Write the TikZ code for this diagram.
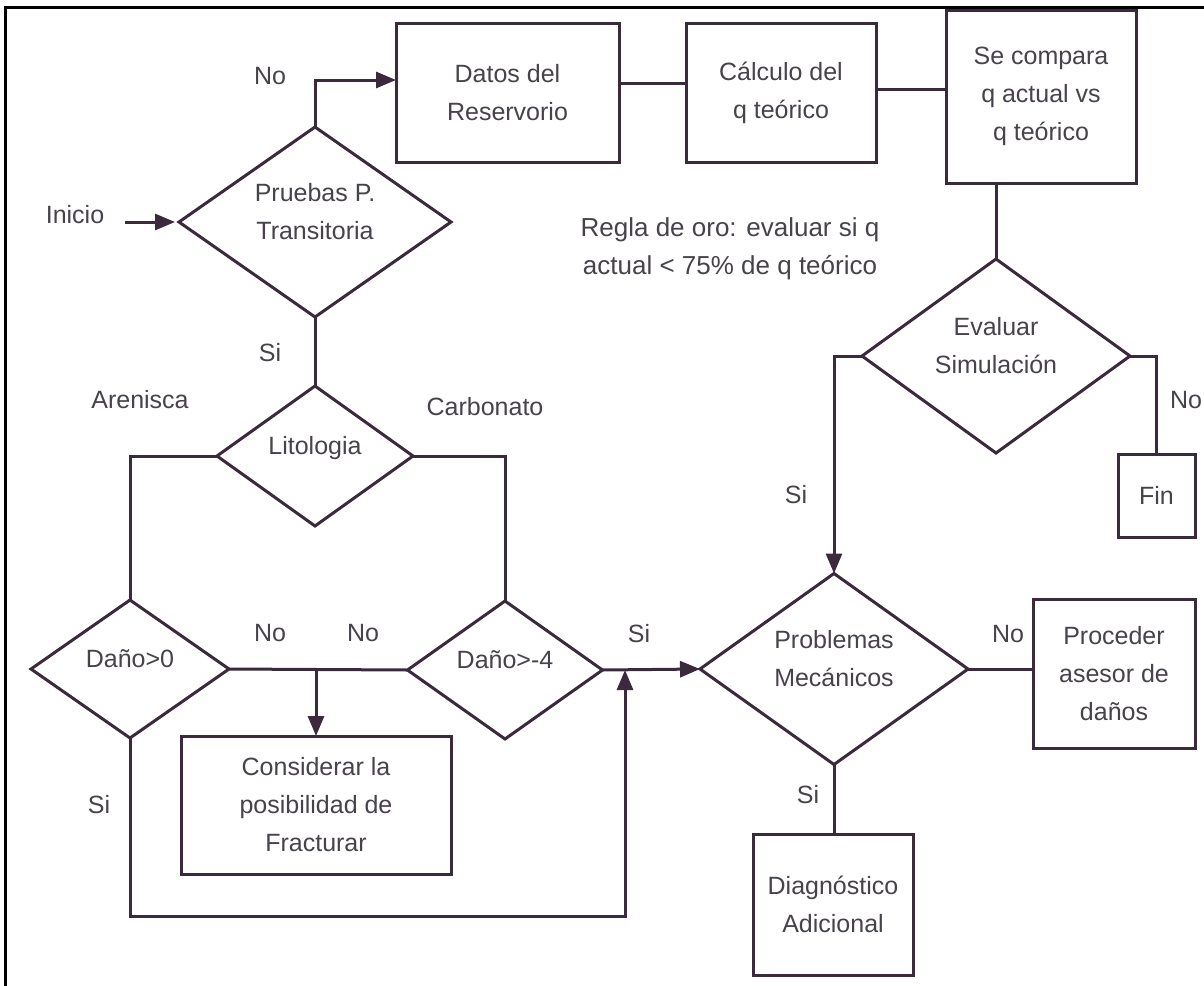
\documentclass[tikz,border=0pt]{standalone}
\usepackage{fontspec}
\setmainfont{Liberation Sans}
\usetikzlibrary{shapes.geometric,arrows.meta}
\definecolor{ln}{RGB}{58,42,60}
\definecolor{tx}{RGB}{72,66,74}
\newcommand\dtxt[1]{\smash{\makebox[0pt]{\raisebox{3pt}{\begin{tabular}{@{}c@{}}#1\end{tabular}}}}}
\begin{document}
\begin{tikzpicture}[x=1pt,y=-1pt,
  every node/.style={font=\fontsize{25}{38}\selectfont, text=tx},
  box/.style={draw=ln, line width=3pt, rectangle, inner sep=0pt, outer sep=0pt, align=center},
  dia/.style={draw=ln, line width=3pt, diamond, inner sep=0pt, outer sep=0pt},
  conn/.style={draw=ln, line width=3pt},
  arr/.style={conn, -{Triangle[length=20pt,width=16pt]}},
  lbl/.style={inner sep=0pt}]
\useasboundingbox (0,0) rectangle (1204,985);
\fill[white] (0,0) rectangle (1204,985);
% frame
\draw[line width=3pt, black] (5,995) -- (5,7) -- (1215,7);

% nodes
\node[dia, minimum width=272pt, minimum height=190pt] (pruebas) at (315,222) {\dtxt{Pruebas P.\\Transitoria}};
\node[box, minimum width=223pt, minimum height=139pt] (datos) at (507.5,92.5) {Datos del\\Reservorio};
\node[box, minimum width=190pt, minimum height=139pt] (calculo) at (781,92.5) {Cálculo del\\q teórico};
\node[box, minimum width=190pt, minimum height=173pt] (secompara) at (1041,96.5) {Se compara\\q actual vs\\q teórico};
\node[dia, minimum width=268pt, minimum height=194pt] (evaluar) at (996,356) {\dtxt{Evaluar\\Simulación}};
\node[box, minimum width=77pt, minimum height=83pt] (fin) at (1156.5,495.5) {Fin};
\node[dia, minimum width=268pt, minimum height=191pt] (problemas) at (834,669) {\dtxt{Problemas\\Mecánicos}};
\node[box, minimum width=162pt, minimum height=149pt] (proceder) at (1114,673.5) {Proceder\\asesor de\\daños};
\node[box, minimum width=160pt, minimum height=141pt] (diagnostico) at (833,904.5) {Diagnóstico\\Adicional};
\node[dia, minimum width=196pt, minimum height=140pt] (litologia) at (315,456) {\dtxt{Litologia}};
\node[dia, minimum width=198pt, minimum height=138pt] (dano0) at (130,669) {\dtxt{Daño>0}};
\node[dia, minimum width=195pt, minimum height=138pt] (dano4) at (505,670) {\dtxt{Daño>-4}};
\node[box, minimum width=270pt, minimum height=138pt] (considerar) at (316,805) {Considerar la\\posibilidad de\\Fracturar};

% free texts and labels
\node[lbl] (inicio) at (75,215) {Inicio};
\node[lbl, align=center, font=\fontsize{26}{38}\selectfont] (regla) at (730,249) {Regla de oro: evaluar si q\\actual < 75\% de q teórico};
\node[lbl] (lno1) at (270,76) {No};
\node[lbl] (lsi1) at (270,353) {Si};
\node[lbl] (lare) at (140,400) {Arenisca};
\node[lbl] (lcar) at (485,407) {Carbonato};
\node[lbl] (lno2) at (270,633) {No};
\node[lbl] (lno3) at (363,633) {No};
\node[lbl] (lsi2) at (639,634) {Si};
\node[lbl] (lsi3) at (99,805) {Si};
\node[lbl] (lsi4) at (796,495) {Si};
\node[lbl] (lno4) at (1186,400) {No};
\node[lbl] (lno5) at (1008,634) {No};
\node[lbl] (lsi5) at (808,795) {Si};

% connectors
\coordinate (nocorner) at (315,80);
\coordinate (loop) at (625,916);
\draw[arr, shorten <=21pt, shorten >=4pt] (inicio.east |- pruebas.west) -- (pruebas.west);
\draw[arr] (pruebas.north) -- (nocorner) -- (nocorner -| datos.west);
\draw[conn] ([yshift=9.5pt]datos.east) -- ([yshift=9.5pt]calculo.west);
\draw[conn] ([yshift=3.5pt]calculo.east) -- ([yshift=3.5pt]calculo.east -| secompara.west);
\draw[conn] (evaluar.north |- secompara.south) -- (evaluar.north);
\draw[arr] (evaluar.west) -| (problemas.north);
\draw[conn] (evaluar.east) -| (fin.north);
\draw[conn] (problemas.east) -- (problemas.east -| proceder.west);
\draw[conn] (problemas.south) -- (problemas.south |- diagnostico.north);
\draw[conn] (pruebas.south) -- (litologia.north);
\draw[conn] (litologia.west) -| (dano0.north);
\draw[conn] (litologia.east) -| (dano4.north);
\draw[conn] (dano0.east) -- (dano4.west);
\draw[arr] (considerar.north |- dano0.east) -- (considerar.north);
\draw[arr] (dano4.east) -- (problemas.west);
\draw[arr] (dano0.south) |- (loop) -- (loop |- dano4.east);
\end{tikzpicture}
\end{document}
